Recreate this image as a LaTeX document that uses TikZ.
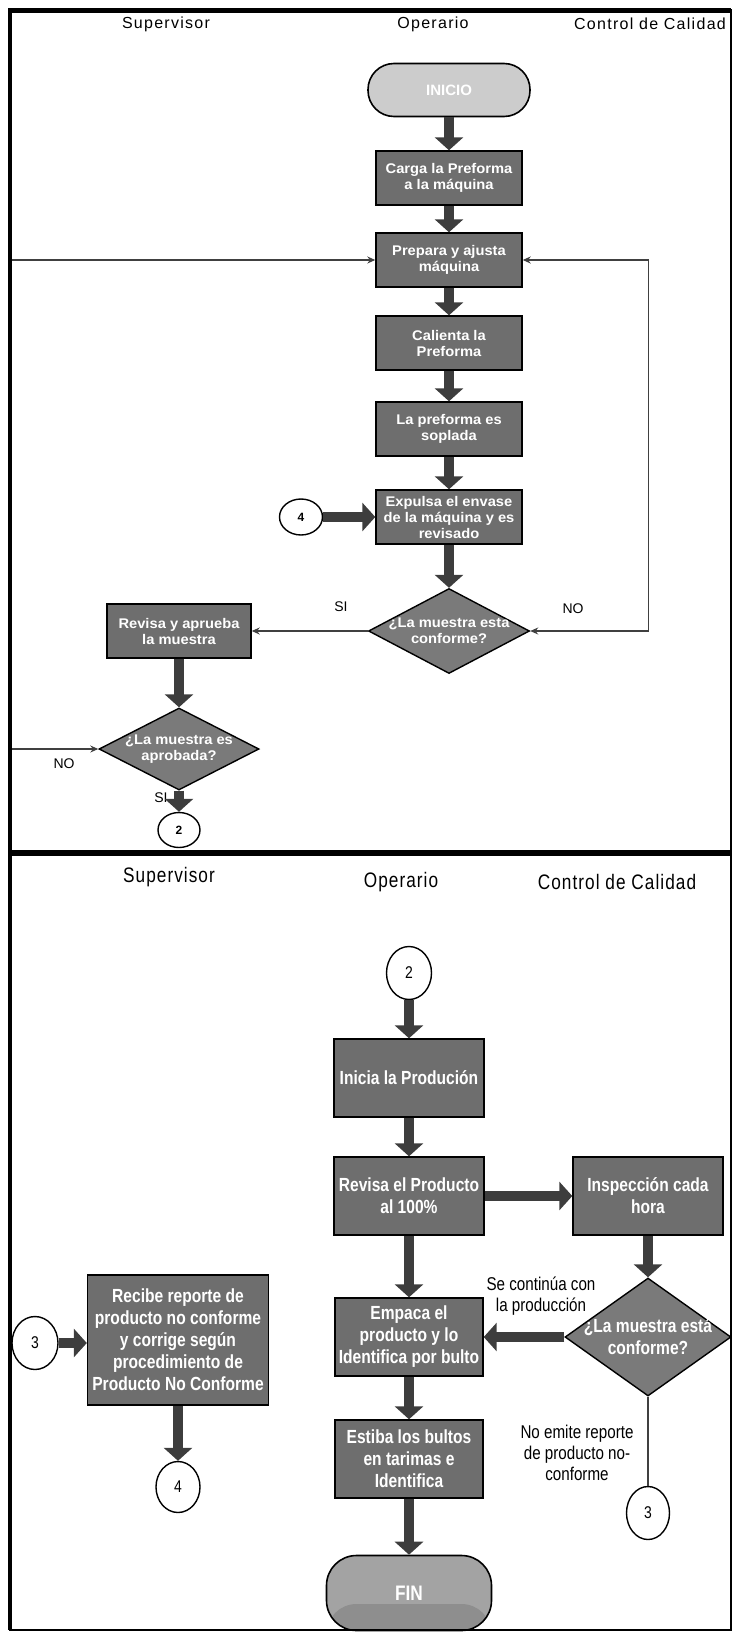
\documentclass[tikz,border=0pt]{standalone}
\usepackage{fontspec}
\setmainfont{Liberation Sans}
\newfontfamily\headfont{Liberation Sans}[LetterSpace=8]
\newfontfamily\boxfont{Liberation Sans}[FakeStretch=1.05]
\newfontfamily\narrowfont{Liberation Sans}[FakeStretch=0.82]
\newfontfamily\narrowhead{Liberation Sans}[FakeStretch=0.82,LetterSpace=5]
\usetikzlibrary{positioning,shapes.geometric,arrows.meta}

\definecolor{boxgray}{HTML}{6E6E6E}
\definecolor{diagray}{HTML}{7A7A7A}
\definecolor{arrowgray}{HTML}{3D3D3D}
\definecolor{linegray}{HTML}{404040}
\definecolor{startgray}{HTML}{CCCCCC}
\definecolor{endgray}{HTML}{A3A3A3}
\definecolor{endlow}{HTML}{8E8E8E}

\tikzset{
  proc/.style={rectangle, draw=black, line width=1.4pt, fill=boxgray, text=white,
    align=center, inner sep=0pt, minimum width=146pt, minimum height=54pt,
    font=\boxfont\bfseries\fontsize{14}{16}\selectfont},
  procb/.style={proc, minimum width=150pt, minimum height=78pt,
    font=\narrowfont\bfseries\fontsize{19}{22}\selectfont},
  dec/.style={diamond, draw=black, line width=1.4pt, fill=diagray, inner sep=0pt},
  dectext/.style={text=white, align=center, inner sep=0pt,
    font=\boxfont\bfseries\fontsize{14}{16}\selectfont},
  dectextb/.style={dectext, font=\narrowfont\bfseries\fontsize{19}{22}\selectfont},
  term/.style={rectangle, rounded corners=26pt, draw=black, line width=1.6pt,
    text=white, inner sep=0pt},
  conn/.style={ellipse, draw=black, line width=1.4pt, fill=white, inner sep=0pt},
  flow/.style={draw=arrowgray, line width=9.5pt, -{Triangle[width=28pt,length=13pt]}},
  link/.style={draw=linegray, line width=1.3pt, -{Stealth[width=7pt,length=8pt]}},
  backlink/.style={link, {Stealth[width=7pt,length=8pt]}-{Stealth[width=7pt,length=8pt]}},
  tag/.style={inner sep=0pt, font=\fontsize{14}{16}\selectfont},
  tagb/.style={inner sep=0pt, align=center, font=\narrowfont\fontsize{18.5}{21}\selectfont},
  lane/.style={inner sep=0pt, font=\headfont\fontsize{16}{18}\selectfont},
  laneb/.style={inner sep=0pt, font=\narrowhead\fontsize{21}{24}\selectfont},
}

\begin{document}
\begin{tikzpicture}[x=1pt, y=-1pt]
  \useasboundingbox (0,0) rectangle (734,1633);

  % upper sheet
  \node[lane] (supA) at (166,24) {Supervisor};
  \node[lane] (opA) at (433,24) {Operario};
  \node[lane] (calA) at (650,24) {Control de Calidad};

  \node[term, fill=startgray, minimum width=162pt, minimum height=53pt,
    font=\bfseries\fontsize{15}{17}\selectfont] (inicio) at (449,90) {INICIO};
  \node[proc] (carga) at (449,178) {Carga la Preforma\\a la máquina};
  \node[proc] (prep) at (449,260) {Prepara y ajusta\\máquina};
  \node[proc] (calienta) at (449,343) {Calienta la\\Preforma};
  \node[proc] (sopla) at (449,429) {La preforma es\\soplada};
  \node[proc] (expulsa) at (449,517) {Expulsa el envase\\de la máquina y es\\revisado};
  \node[conn, minimum width=43pt, minimum height=36pt,
    font=\bfseries\fontsize{12}{14}\selectfont] (cuatro) at (301,517) {4};

  \node[dec, minimum width=161pt, minimum height=85pt] (conf) at (449,631) {};
  \node[dectext] (conftxt) at (conf) {¿La muestra esta\\conforme?};
  \node[proc, minimum width=144pt] (revmu) at (179,631) {Revisa y aprueba\\la muestra};
  \node[dec, minimum width=160pt, minimum height=82pt] (aprob) at (179,749) {};
  \node[dectext] (aprobtxt) at (aprob) {¿La muestra es\\aprobada?};
  \node[conn, minimum width=42pt, minimum height=35pt,
    font=\bfseries\fontsize{12}{14}\selectfont] (dosa) at (179,830) {2};

  \node[tag] (si1) at (341,607) {SI};
  \node[tag] (no1) at (573,609) {NO};
  \node[tag] (no2) at (64,764) {NO};
  \node[tag] (si2) at (161,798) {SI};

  \draw[flow] (inicio) -- (carga);
  \draw[flow] (carga) -- (prep);
  \draw[flow] (prep) -- (calienta);
  \draw[flow] (calienta) -- (sopla);
  \draw[flow] (sopla) -- (expulsa);
  \draw[flow] (expulsa) -- (conf);
  \draw[flow] (cuatro) -- (expulsa);
  \draw[link] (conf) -- (revmu);
  \draw[flow] (revmu) -- (aprob);
  \draw[flow] (aprob) -- (dosa);
  \draw[backlink] (conf.east) -- ++(118,0) |- (prep.east);
  \draw[backlink] (aprob.west) -- ++(-90,0) |- (prep.west);

  % lower sheet
  \node[laneb] (supB) at (169,877) {Supervisor};
  \node[laneb] (opB) at (401,882) {Operario};
  \node[laneb] (calB) at (617,882) {Control de Calidad};

  \node[conn, minimum width=45pt, minimum height=53pt,
    font=\narrowfont\fontsize{17}{19}\selectfont] (dosb) at (409,973) {2};
  \node[procb] (inicia) at (409,1078) {Inicia la Produción};
  \node[procb] (revprod) at (409,1196) {Revisa el Producto\\al 100\%};
  \node[procb] (inspec) at (648,1196) {Inspección cada\\hora};
  \node[dec, minimum width=166pt, minimum height=118pt] (confb) at (648,1337) {};
  \node[dectextb] (confbtxt) at (confb) {¿La muestra está\\conforme?};
  \node[procb, minimum width=148pt] (empaca) at (409,1337) {Empaca el\\producto y lo\\Identifica por bulto};
  \node[procb, minimum width=148pt] (estiba) at (409,1459) {Estiba los bultos\\en tarimas e\\Identifica};
  \node[term, rounded corners=30pt, fill=endgray, minimum width=165pt, minimum height=75pt,
    font=\narrowfont\bfseries\fontsize{21}{23}\selectfont,
    path picture={\fill[endlow] ([yshift=-11pt]path picture bounding box.west)
      rectangle (path picture bounding box.south east);}] (fin) at (409,1593) {FIN};
  \node[tagb] (sigue) at (541,1296) {Se continúa con\\la producción};
  \node[tagb] (noemite) at (577,1453) {No emite reporte\\de producto no-\\conforme};
  \node[conn, minimum width=43pt, minimum height=53pt,
    font=\narrowfont\fontsize{17}{19}\selectfont] (tresb) at (648,1513) {3};

  \node[procb, minimum width=181pt, minimum height=130pt] (recibe) at (178,1340)
    {Recibe reporte de\\producto no conforme\\y corrige según\\procedimiento de\\Producto No Conforme};
  \node[conn, minimum width=46pt, minimum height=53pt,
    font=\narrowfont\fontsize{17}{19}\selectfont] (tresa) at (35,1343) {3};
  \node[conn, minimum width=44pt, minimum height=51pt,
    font=\narrowfont\fontsize{17}{19}\selectfont] (cuatrob) at (178,1487) {4};

  \draw[flow] (dosb) -- (inicia);
  \draw[flow] (inicia) -- (revprod);
  \draw[flow] (revprod) -- (inspec);
  \draw[flow] (inspec) -- (confb);
  \draw[flow] (revprod) -- (empaca);
  \draw[flow] (confb) -- (empaca);
  \draw[flow] (empaca) -- (estiba);
  \draw[flow] (estiba) -- (fin);
  \draw[line width=1.3pt, linegray] (confb) -- (tresb);
  \draw[flow] (tresa) -- (tresa -| recibe.west);
  \draw[flow] (recibe) -- (cuatrob);

  % frame
  \draw[line width=2.5pt] (10,10) rectangle (731,1630);
  \draw[line width=5pt] (8,10) -- (731,10);
  \draw[line width=4pt] (10,10) -- (10,1630);
  \draw[line width=6pt] (10,853) -- (731,853);
\end{tikzpicture}
\end{document}
